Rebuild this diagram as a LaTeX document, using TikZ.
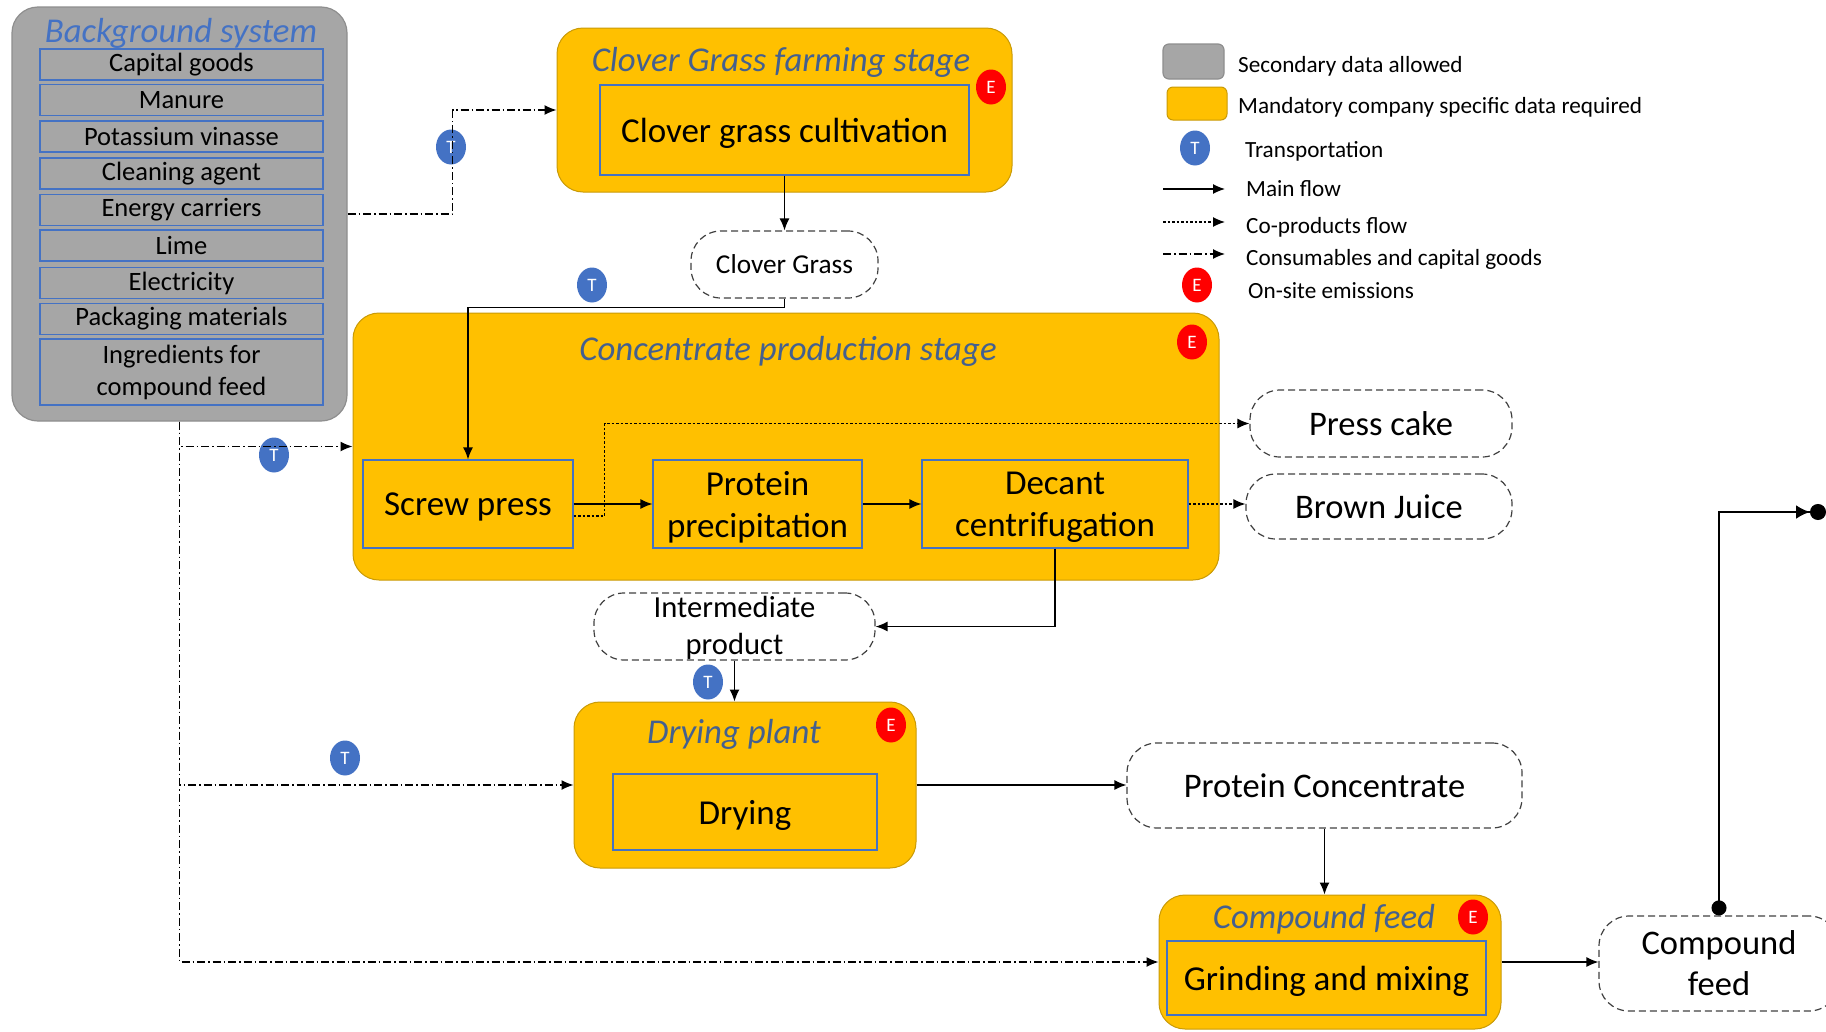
\documentclass[tikz,border=0pt]{standalone}
\usepackage{fontspec}
\setmainfont{Carlito}
\usetikzlibrary{arrows.meta,positioning,shapes.geometric}

\definecolor{stagefill}{HTML}{FFC000}
\definecolor{stageline}{HTML}{C99A06}
\definecolor{bgfill}{HTML}{A6A6A6}
\definecolor{bgline}{HTML}{8E8E8E}
\definecolor{boxblue}{HTML}{4472C4}
\definecolor{stagetitle}{HTML}{44608F}
\definecolor{bgtitle}{HTML}{4472C4}
\definecolor{emisred}{HTML}{FF0000}

\tikzset{
  stage/.style={draw=stageline,fill=stagefill,line width=1pt,rounded corners=26pt,inner sep=0pt},
  bgbox/.style={draw=bgline,fill=bgfill,line width=1.2pt,rounded corners=26pt,inner sep=0pt},
  itembox/.style={draw=boxblue,line width=1.2pt,minimum width=283pt,minimum height=31pt,inner sep=0pt,
    align=center,font=\fontsize{26.5}{32}\selectfont},
  procbox/.style={draw=boxblue,line width=1.2pt,inner sep=0pt,align=center,text depth=0pt,
    font=\fontsize{35}{42}\selectfont},
  product/.style={draw=black!75,line width=1.2pt,dash pattern=on 7pt off 4pt,rounded corners=30pt,
    inner sep=0pt,align=center,text depth=0pt,font=\fontsize{34.5}{41}\selectfont},
  stagetext/.style={font=\fontsize{34.8}{36}\selectfont\itshape,text=stagetitle},
  tcirc/.style={ellipse,fill=boxblue,text=white,minimum width=30pt,minimum height=35pt,inner sep=0pt,
    font=\fontsize{19}{19}\selectfont},
  ecirc/.style={ellipse,fill=emisred,text=white,minimum width=30pt,minimum height=35pt,inner sep=0pt,
    font=\fontsize{19}{19}\selectfont},
  legtext/.style={anchor=west,inner sep=0pt,font=\fontsize{23.2}{26}\selectfont},
  mainflow/.style={line width=1.3pt,-{Latex[length=12pt,width=10pt]}},
  coflow/.style={line width=1.3pt,dash pattern=on 2.5pt off 2pt,-{Latex[length=12pt,width=10pt]}},
  consflow/.style={line width=1.3pt,dash pattern=on 8pt off 3pt on 1.5pt off 3pt,-{Latex[length=12pt,width=10pt]}}
}

\begin{document}
\begin{tikzpicture}[x=1pt,y=-1pt]
\useasboundingbox (0,0) rectangle (1826,1031);

% background system
\node[bgbox,minimum width=335pt,minimum height=414pt] (bg) at (179.5,214) {};
\node[stagetext,text=bgtitle] (bgname) at (181,33.5) {Background system};
\node[itembox] (capital) at (181.5,64.5) {Capital goods};
\node[itembox] (manure) at (181.5,100) {Manure};
\node[itembox] (vinasse) at (181.5,136.5) {Potassium vinasse};
\node[itembox] (cleaning) at (181.5,173.5) {Cleaning agent};
\node[itembox] (energy) at (181.5,210) {Energy carriers};
\node[itembox] (lime) at (181.5,245.5) {Lime};
\node[itembox] (electricity) at (181.5,283) {Electricity};
\node[itembox] (packaging) at (181.5,319) {Packaging materials};
\node[itembox,minimum height=66pt] (ingredients) at (181.5,372) {Ingredients for\\compound feed};

% clover grass farming stage
\node[stage,minimum width=455pt,minimum height=164pt] (farm) at (784.5,110) {};
\node[stagetext] (farmname) at (781,62.5) {Clover Grass farming stage};
\node[procbox,minimum width=369pt,minimum height=90pt] (cultivation) at (784.5,130) {Clover grass cultivation};
\node[ecirc] (efarm) at (991,87) {E};
\node[product,minimum width=187pt,minimum height=67pt,font=\fontsize{27.3}{32}\selectfont] (clovergrass) at (784.5,264.5) {Clover Grass};

% concentrate production stage
\node[stage,minimum width=866pt,minimum height=267pt] (conc) at (786,446.5) {};
\node[stagetext] (concname) at (788,351.5) {Concentrate production stage};
\node[ecirc] (econc) at (1192,342) {E};
\node[procbox,minimum width=210pt,minimum height=88pt] (screw) at (468,504) {Screw press};
\node[procbox,minimum width=209pt,minimum height=88pt] (precip) at (757.5,504) {Protein\\precipitation};
\node[procbox,minimum width=266pt,minimum height=88pt] (decant) at (1055,504) {Decant\\centrifugation};
\node[product,minimum width=262pt,minimum height=67pt] (presscake) at (1381,423.5) {Press cake};
\node[product,minimum width=266pt,minimum height=65pt] (brownjuice) at (1379,506.5) {Brown Juice};
\node[product,minimum width=281pt,minimum height=67pt,text depth=3pt,font=\fontsize{30.6}{37}\selectfont] (intermediate) at (734.5,626.5) {Intermediate\\product};

% drying plant
\node[stage,minimum width=342pt,minimum height=166pt] (dryplant) at (745,785) {};
\node[stagetext] (dryname) at (734,734.5) {Drying plant};
\node[ecirc] (edry) at (891,725) {E};
\node[procbox,minimum width=264pt,minimum height=76pt] (drying) at (745,812) {Drying};
\node[product,minimum width=395pt,minimum height=85pt] (concentrate) at (1324.5,785.5) {Protein Concentrate};

% compound feed
\node[stage,minimum width=342pt,minimum height=134pt] (feedplant) at (1330,962) {};
\node[stagetext] (feedname) at (1324,919.5) {Compound feed};
\node[ecirc] (efeed) at (1473,917) {E};
\node[procbox,minimum width=319pt,minimum height=74pt] (grinding) at (1326.5,978) {Grinding and mixing};
\node[product,minimum width=240pt,minimum height=95pt] (feedout) at (1719,963.5) {Compound\\feed};
\coordinate (feedend) at (1826,512);

% transport
\node[tcirc] (tfarm) at (451,147) {T};
\node[tcirc] (tconc) at (274,455) {T};
\node[tcirc] (tdry) at (345,758) {T};
\node[tcirc] (tgrass) at (592,285) {T};
\node[tcirc] (tinter) at (708,682) {T};

% flows
\draw[consflow] (bg.east) -- ++(105,0) |- (farm.west);
\draw[consflow] (bg.south) |- (conc.west);
\draw[consflow] (bg.south) |- (dryplant.west);
\draw[consflow] (bg.south) |- (feedplant.west);
\draw[mainflow] (cultivation.south) -- (clovergrass.north);
\draw[mainflow] (clovergrass.south) -- ++(0,9) -| (screw.north);
\draw[mainflow] (screw.east) -- (precip.west);
\draw[mainflow] (precip.east) -- (decant.west);
\draw[coflow] ([yshift=-12pt]screw.east) -- ++(31,0) |- (presscake.west);
\draw[coflow] (decant.east) -- (decant.east -| brownjuice.west);
\draw[mainflow] (decant.south) |- (intermediate.east);
\draw[mainflow] (intermediate.south) -- (intermediate.south |- dryplant.north);
\draw[mainflow] (dryplant.east) -- (dryplant.east -| concentrate.west);
\draw[mainflow] (concentrate.south) -- (concentrate.south |- feedplant.north);
\draw[mainflow] (feedplant.east) -- (feedplant.east -| feedout.west);
\draw[line width=2.5pt,{Circle[length=15pt]}-{Latex[length=14pt,width=14pt]Circle[length=16pt]}] (feedout.north) |- (feedend);

% legend
\node[bgbox,rounded corners=6pt,minimum width=61pt,minimum height=35pt] (legbg) at (1193.5,61.5) {};
\node[legtext] (legbgtext) at (1238,66.5) {Secondary data allowed};
\node[stage,rounded corners=6pt,minimum width=60pt,minimum height=33pt] (legstage) at (1197,103.5) {};
\node[legtext] (legstagetext) at (1238,107.5) {Mandatory company specific data required};
\node[tcirc] (legt) at (1195,148) {T};
\node[legtext] (legttext) at (1245,151.5) {Transportation};
\coordinate (legmaina) at (1163,189);
\coordinate (legmainb) at (1225,189);
\node[legtext] (legmaintext) at (1246,189) {Main flow};
\coordinate (legcoa) at (1163,222);
\coordinate (legcob) at (1225,222);
\node[legtext] (legcotext) at (1246,227) {Co-products flow};
\coordinate (legconsa) at (1163,254);
\coordinate (legconsb) at (1225,254);
\node[legtext] (legconstext) at (1246,259) {Consumables and capital goods};
\node[ecirc] (lege) at (1197,285) {E};
\node[legtext] (legetext) at (1248,290.5) {On-site emissions};
\draw[mainflow] (legmaina) -- (legmainb);
\draw[coflow] (legcoa) -- (legcob);
\draw[consflow] (legconsa) -- (legconsb);
\end{tikzpicture}
\end{document}
